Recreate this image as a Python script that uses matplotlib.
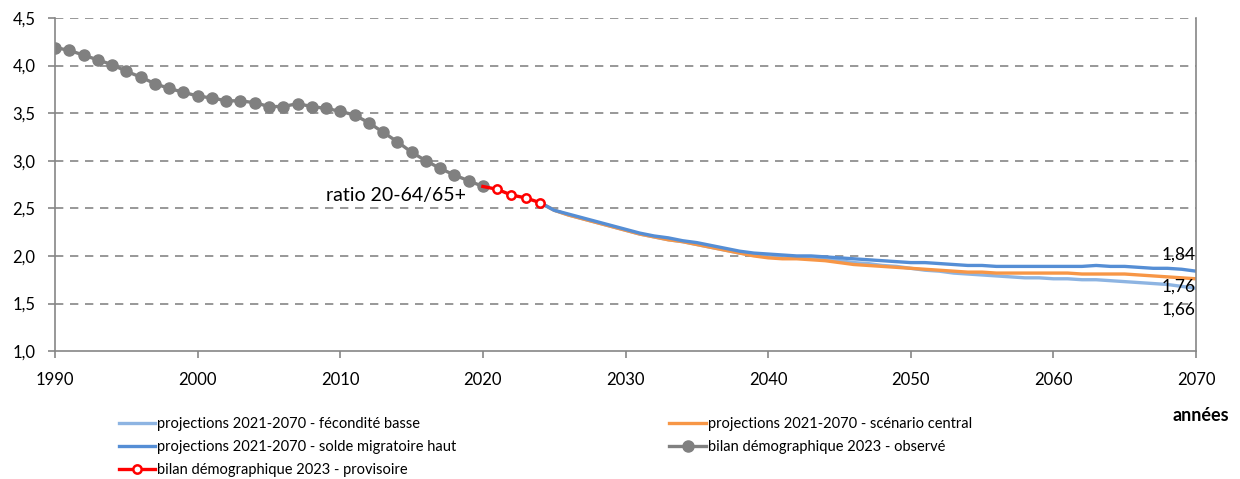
import matplotlib
matplotlib.use("Agg")
import matplotlib.pyplot as plt
from matplotlib.ticker import FuncFormatter

plt.rcParams['font.family'] = ['Lato', 'DejaVu Sans']

# observed ratio 20-64 / 65+ (1990-2020)
obs_years = list(range(1990, 2021))
obs_vals = [4.19, 4.16, 4.11, 4.06, 4.01, 3.94, 3.88, 3.81, 3.76, 3.72,
            3.68, 3.66, 3.63, 3.63, 3.61, 3.57, 3.57, 3.60, 3.57, 3.55,
            3.52, 3.48, 3.40, 3.30, 3.20, 3.09, 3.00, 2.92, 2.85, 2.79,
            2.73]

# provisional (2021-2024)
prov_years = [2021, 2022, 2023, 2024]
prov_vals = [2.70, 2.64, 2.61, 2.56]

# projections 2024-2070
proj_years = list(range(2024, 2071))
central = [2.56, 2.48, 2.43, 2.39, 2.35, 2.31, 2.27, 2.23, 2.20, 2.17,
           2.15, 2.12, 2.09, 2.06, 2.03, 2.00, 1.98, 1.97, 1.97, 1.96,
           1.95, 1.93, 1.91, 1.90, 1.89, 1.88, 1.87, 1.86, 1.85, 1.84,
           1.83, 1.83, 1.82, 1.82, 1.82, 1.82, 1.82, 1.82, 1.81, 1.81,
           1.81, 1.81, 1.80, 1.79, 1.78, 1.77, 1.76]
migr_haut = [2.56, 2.48, 2.44, 2.40, 2.36, 2.32, 2.28, 2.24, 2.21, 2.19,
             2.16, 2.14, 2.11, 2.08, 2.05, 2.03, 2.02, 2.01, 2.00, 2.00,
             1.99, 1.98, 1.97, 1.96, 1.95, 1.94, 1.93, 1.93, 1.92, 1.91,
             1.90, 1.90, 1.89, 1.89, 1.89, 1.89, 1.89, 1.89, 1.89, 1.90,
             1.89, 1.89, 1.88, 1.87, 1.87, 1.86, 1.84]
fec_basse = [2.56, 2.48, 2.43, 2.39, 2.35, 2.31, 2.27, 2.23, 2.20, 2.17,
             2.15, 2.12, 2.09, 2.06, 2.03, 2.01, 1.99, 1.98, 1.98, 1.97,
             1.96, 1.95, 1.93, 1.92, 1.90, 1.89, 1.87, 1.85, 1.84, 1.82,
             1.81, 1.80, 1.79, 1.78, 1.77, 1.77, 1.76, 1.76, 1.75, 1.75,
             1.74, 1.73, 1.72, 1.71, 1.70, 1.68, 1.66]

fig = plt.figure(figsize=(12.4, 4.79), dpi=100)
ax = fig.add_axes([0.0444, 0.267, 0.9201, 0.6954])

l_basse, = ax.plot(proj_years, fec_basse, color='#8db4e2', lw=2.4,
                   label='projections 2021-2070 - fécondité basse')
l_central, = ax.plot(proj_years, central, color='#f79646', lw=2.4,
                     label='projections 2021-2070 - scénario central')
l_haut, = ax.plot(proj_years, migr_haut, color='#558ed5', lw=2.4,
                  label='projections 2021-2070 - solde migratoire haut')
l_obs, = ax.plot(obs_years, obs_vals, color='#808080', lw=2.4, marker='o',
                 markersize=8, label='bilan démographique 2023 - observé')
l_prov, = ax.plot([obs_years[-1]] + prov_years, [obs_vals[-1]] + prov_vals,
                  color='#ff0000', lw=2.4, marker='o', markersize=6,
                  markerfacecolor='white', markeredgewidth=1.8,
                  markevery=list(range(1, 5)),
                  label='bilan démographique 2023 - provisoire')

ax.set_xlim(1990, 2070)
ax.set_ylim(1.0, 4.5)
ax.set_xticks(range(1990, 2071, 10))
ax.set_yticks([1.0, 1.5, 2.0, 2.5, 3.0, 3.5, 4.0, 4.5])
ax.yaxis.set_major_formatter(FuncFormatter(lambda v, p: f'{v:.1f}'.replace('.', ',')))
for y in [1.5, 2.0, 2.5, 3.0, 3.5, 4.0, 4.5]:
    ax.axhline(y, color='#868686', lw=1.2, ls=(0, (5, 4)), zorder=0)

for s in ['left', 'bottom', 'right']:
    ax.spines[s].set_color('#868686')
    ax.spines[s].set_linewidth(1.2)
ax.spines['top'].set_visible(False)
ax.tick_params(axis='both', labelsize=12, colors='#000000', length=5,
               width=1.2, color='#868686')
ax.tick_params(axis='x', pad=10)
ax.tick_params(axis='y', pad=9)

# end labels
for val, dy in [(migr_haut[-1], 12), (central[-1], -6), (fec_basse[-1], -15)]:
    ax.annotate(f'{val:.2f}'.replace('.', ','), xy=(proj_years[-1], val),
                xytext=(0, dy), textcoords='offset points', ha='right',
                va='center', fontsize=12.5)

ax.text(2009.0, 2.63, 'ratio 20-64/65+', fontsize=14, va='center', ha='left')

fig.text(0.991, 0.133, 'années', fontsize=13, fontweight='bold', ha='right', va='center')

handles = [l_basse, l_haut, l_prov, l_central, l_obs]
fig.legend(handles, [h.get_label() for h in handles], ncol=2,
           loc='upper left', bbox_to_anchor=(0.091, 0.141), frameon=False,
           fontsize=10.5, handlelength=2.5, handletextpad=0.15,
           columnspacing=14.6, labelspacing=0.62, borderaxespad=0)

fig.savefig('out.png', dpi=100)
